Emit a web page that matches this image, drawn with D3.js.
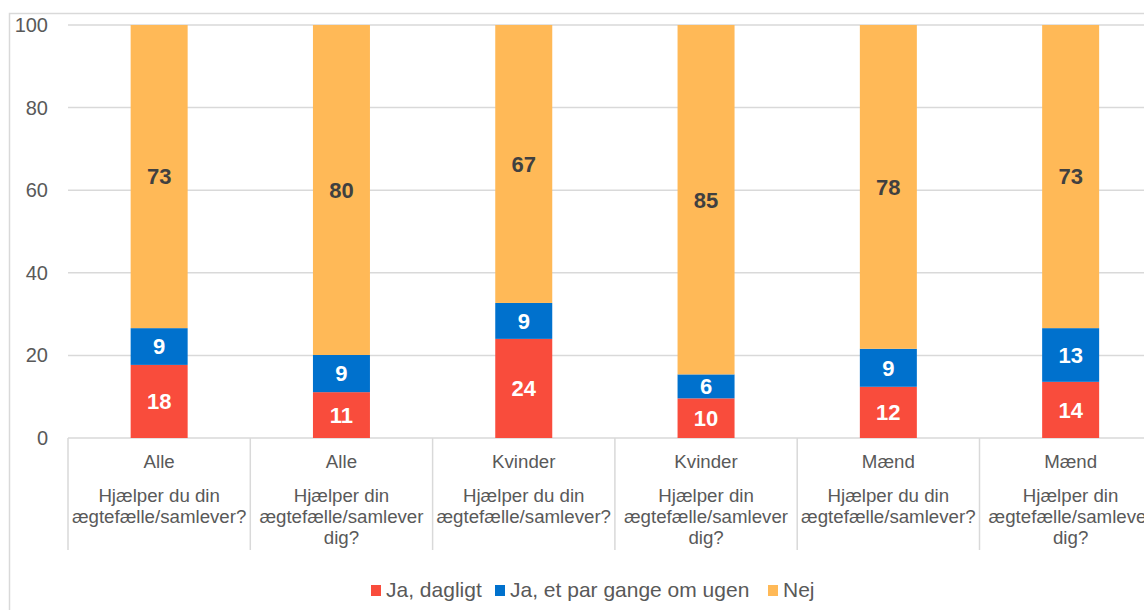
<!DOCTYPE html>
<html><head><meta charset="utf-8">
<script src="https://cdn.jsdelivr.net/npm/d3@7"></script>
<style>body{margin:0;background:#fff;}svg{display:block;font-family:"Liberation Sans",Arial,sans-serif;}</style>
</head><body>
<svg id="c" width="1144" height="610"></svg>
<script>
const groups = ["Alle","Alle","Kvinder","Kvinder","Mænd","Mænd"];
const questions = [
  ["Hjælper du din","ægtefælle/samlever?"],
  ["Hjælper din","ægtefælle/samlever","dig?"],
  ["Hjælper du din","ægtefælle/samlever?"],
  ["Hjælper din","ægtefælle/samlever","dig?"],
  ["Hjælper du din","ægtefælle/samlever?"],
  ["Hjælper din","ægtefælle/samlever","dig?"]
];
const seriesNames = ["Ja, dagligt","Ja, et par gange om ugen","Nej"];
const daily = [17.7, 11.1, 24.0, 9.6, 12.4, 13.6];
const weekly = [8.9, 9.0, 8.7, 5.8, 9.2, 13.0];
const no = [73.4, 79.9, 67.3, 84.6, 78.4, 73.4];
const yTicks = [0,20,40,60,80,100];
const colors = ["#F94C3C","#0071CD","#FFB957"];
const labelColors = ["#ffffff","#ffffff","#404040"];

const svg = d3.select("#c");
// frame
svg.append("rect").attr("x",9.5).attr("y",13.5).attr("width",1200).attr("height",700)
  .attr("fill","none").attr("stroke","#d9d9d9").attr("stroke-width",1.5);

const x0 = 68, band = 182.3;
const x = d3.scaleBand().domain(d3.range(6)).range([x0, x0+band*6]).paddingInner(0).paddingOuter(0);
const y = d3.scaleLinear().domain([0,100]).range([438,25]);

// gridlines
svg.append("g").selectAll("line").data(yTicks).join("line")
  .attr("x1",x0).attr("x2",1144).attr("y1",d=>y(d)).attr("y2",d=>y(d))
  .attr("stroke","#d9d9d9").attr("stroke-width",1.5);

// y axis labels
const yAxis = d3.axisLeft(y).tickValues(yTicks).tickSize(0).tickPadding(0);
const ya = svg.append("g").attr("transform","translate(48,0)").call(yAxis);
ya.select(".domain").remove();
ya.selectAll("text").attr("font-size",20).attr("fill","#595959").attr("font-family","Liberation Sans, Arial, sans-serif");

// stacks
const rows = d3.range(6).map(i=>({i, s0:daily[i], s1:weekly[i], s2:no[i]}));
const stack = d3.stack().keys(["s0","s1","s2"])(rows);
const bw = 57;
stack.forEach((layer,k)=>{
  const g = svg.append("g");
  g.selectAll("rect").data(layer).join("rect")
    .attr("x",d=>x(d.data.i)+band/2-bw/2).attr("width",bw)
    .attr("y",d=>y(Math.min(100,d[1]))).attr("height",d=>y(d[0])-y(Math.min(100,d[1])))
    .attr("fill",colors[k]);
  g.selectAll("text").data(layer).join("text")
    .attr("x",d=>x(d.data.i)+band/2)
    .attr("y",d=>(y(d[0])+y(Math.min(100,d[1])))/2)
    .attr("dy","0.36em").attr("text-anchor","middle")
    .attr("font-size",22).attr("font-weight","bold").attr("fill",labelColors[k])
    .text(d=>Math.round(d.data["s"+k]));
});

// category axis dividers
svg.append("g").selectAll("line").data(d3.range(7)).join("line")
  .attr("x1",d=>x0+d*band).attr("x2",d=>x0+d*band).attr("y1",438).attr("y2",550)
  .attr("stroke","#d9d9d9").attr("stroke-width",1.5);

const cat = svg.append("g").attr("font-size",18.7).attr("fill","#595959").attr("text-anchor","middle");
cat.selectAll("text.g").data(groups).join("text").attr("class","g")
  .attr("x",(d,i)=>x(i)+band/2).attr("y",468).text(d=>d);
questions.forEach((lines,i)=>{
  lines.forEach((l,j)=>{
    cat.append("text").attr("x",x(i)+band/2).attr("y",502+j*21).text(l);
  });
});

// legend
const legendX = [371, 495, 768];
const lg = svg.append("g");
seriesNames.forEach((n,k)=>{
  lg.append("rect").attr("x",legendX[k]).attr("y",585).attr("width",10).attr("height",11).attr("fill",colors[k]);
  lg.append("text").attr("x",legendX[k]+15).attr("y",597).attr("font-size",21).attr("fill","#595959").text(n);
});
</script>
</body></html>
